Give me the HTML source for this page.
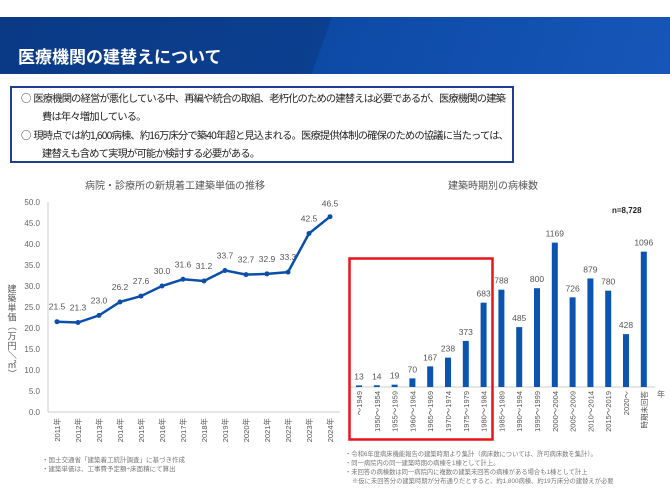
<!DOCTYPE html>
<html><head><meta charset="utf-8"><style>
body{margin:0;width:670px;height:502px;background:#fff;overflow:hidden;font-family:"Liberation Sans","Noto Sans CJK JP",sans-serif;}
.hdr{position:absolute;left:0;top:17px;width:670px;height:57px;background:linear-gradient(110deg,#0a3a86 0%,#0b3f8f 48%,#0d4aa6 48.2%,#1756b8 100%);}
.hdr span{position:absolute;left:18px;top:26px;color:#fff;font-size:17px;font-weight:bold;font-family:"Noto Sans CJK JP",sans-serif;}
.box{position:absolute;left:10px;top:86px;width:500px;height:73px;border:2px solid #1c3f8f;box-sizing:content-box;font-size:10.3px;letter-spacing:-0.85px;line-height:17.5px;color:#222;font-family:"Noto Sans CJK JP",sans-serif;white-space:nowrap;overflow:hidden;}
.box p{margin:1px 0 2px 0;padding-left:30px;text-indent:-21px;}
svg{position:absolute;left:0;top:0;}
</style></head><body>
<div class="hdr"><span>医療機関の建替えについて</span></div>
<div class="box">
<p>○&nbsp; 医療機関の経営が悪化している中、再編や統合の取組、老朽化のための建替えは必要であるが、医療機関の建築<br>費は年々増加している。</p>
<p>○&nbsp; 現時点では約1,600病棟、約16万床分で築40年超と見込まれる。医療提供体制の確保のための協議に当たっては、<br>建替えも含めて実現が可能か検討する必要がある。</p>
</div>
<svg id="s" width="670" height="502" font-family="Liberation Sans,Noto Sans CJK JP,sans-serif"></svg>
<script>
var s=document.getElementById('s'),h='';
function t(x,y,str,sz,col,anc,extra){h+='<text x="'+x+'" y="'+y+'" font-size="'+sz+'" fill="'+col+'" text-anchor="'+(anc||'start')+'" '+(extra||'')+'>'+str+'</text>';}
t(175,189,'病院・診療所の新規着工建築単価の推移',10,'#555','middle');
h+='<line x1="48" y1="202" x2="48" y2="412" stroke="#ccc"/><line x1="48" y1="412" x2="340" y2="412" stroke="#ccc"/>';
for(var i=0;i<=10;i++){var y=412-i*21;t(40,y+3,(i*5).toFixed(1),8,'#666','end');}
var yl='建築単価（万円／㎡）'.split('');
yl.forEach(function(c,k){if('（）／'.indexOf(c)>=0){h+='<text transform="translate(9,'+(288+k*9.5)+') rotate(90)" font-size="9" fill="#555" text-anchor="middle">'+c+'</text>';}else t(12,292+k*9.5,c,9,'#555','middle');});
var v=[21.5,21.3,23.0,26.2,27.6,30.0,31.6,31.2,33.7,32.7,32.9,33.3,42.5,46.5],pts=[];
for(var i=0;i<14;i++){var x=57+21*i,y=412-v[i]*4.2;pts.push(x+','+y);
 t(x,y-(i==13?10:12),i==11?'33.3':v[i].toFixed(1),8.5,'#555','middle');
 h+='<text transform="translate('+(x+3)+',418) rotate(-90)" font-size="7.5" fill="#555" text-anchor="end">'+(2011+i)+'年</text>';}
h+='<polyline points="'+pts.join(' ')+'" fill="none" stroke="#0b4fa8" stroke-width="2.5"/>';
pts.forEach(function(p){var a=p.split(',');h+='<circle cx="'+a[0]+'" cy="'+a[1]+'" r="2.5" fill="#0b4fa8"/>';});
t(42,462,'・国土交通省「建築着工統計調査」に基づき作成',6.5,'#777');
t(42,471,'・建築単価は、工事費予定額÷床面積にて算出',6.5,'#777');
t(493,189,'建築時期別の病棟数',10,'#555','middle');
t(612,213,'n=8,728',8,'#222','start','font-weight="bold"');
var b=[13,14,19,70,167,238,373,683,788,485,800,1169,726,879,780,428,1096];
var L=['～1949','1950～1954','1955～1959','1960～1964','1965～1969','1970～1974','1975～1979','1980～1984','1985～1989','1990～1994','1995～1999','2000～2004','2005～2009','2010～2014','2015～2019','2020～','時期未回答'];
h+='<line x1="350" y1="387" x2="655" y2="387" stroke="#ccc"/>';
t(657,397,'年',8,'#666');
for(var i=0;i<17;i++){var x=359+17.8*i,hh=b[i]*0.1235,y=387-hh;
 h+='<rect x="'+(x-3)+'" y="'+y+'" width="6" height="'+hh+'" fill="#0b55b0"/>';
 t(x,y-6,b[i],8.5,'#555','middle');
 h+='<text transform="translate('+(x+3)+',391) rotate(-90)" font-size="7.5" fill="#555" text-anchor="end">'+L[i]+'</text>';}
h+='<rect x="349.5" y="258.5" width="143" height="181" fill="none" stroke="#e8141b" stroke-width="2.5"/>';
t(345,456,'・令和6年度病床機能報告の建築時期より集計（病床数については、許可病床数を集計）。',6.3,'#777');
t(345,465,'・同一病院内の同一建築時期の病棟を1棟として計上。',6.3,'#777');
t(345,474,'・未回答の病棟数は同一病院内に複数の建築未回答の病棟がある場合も1棟として計上',6.3,'#777');
t(352,483,'※仮に未回答分の建築時期が分布通りだとすると、約1,800病棟、約19万床分の建替えが必要',6.3,'#777');
s.innerHTML=h;
</script>
</body></html>
